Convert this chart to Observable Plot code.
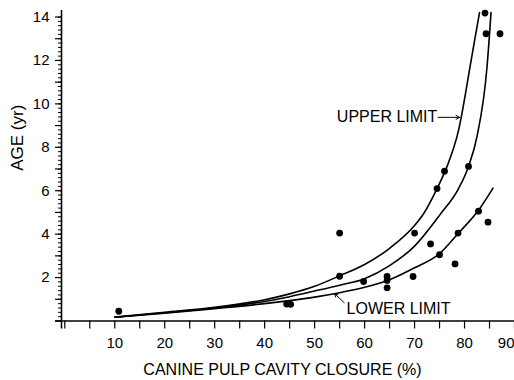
<!DOCTYPE html>
<html>
<head>
<meta charset="utf-8">
<script src="https://cdn.jsdelivr.net/npm/d3@7"></script>
<script src="https://cdn.jsdelivr.net/npm/@observablehq/plot@0.6"></script>
<style>
  html, body { margin: 0; padding: 0; background: #fff; }
</style>
</head>
<body>
<div id="chart"></div>
<script>
// Observed points: closure (%) and age (yr)
const pointX = [10.8, 44.4, 45.2, 55, 55, 59.8, 64.5, 64.5, 64.5, 70, 69.7, 73.2, 75, 74.5, 76, 78.1, 78.7, 80.8, 82.8, 84.7, 84.1, 84.3, 87.1];
const pointY = [0.45, 0.78, 0.77, 4.05, 2.06, 1.82, 2.05, 1.87, 1.53, 4.05, 2.05, 3.55, 3.05, 6.1, 6.9, 2.63, 4.05, 7.12, 5.06, 4.55, 14.18, 13.23, 13.23];

// Upper limit curve
const upperX = [10, 20, 30, 40, 45, 50, 55, 60, 65, 70, 71.8, 74.5, 76.5, 78.8, 81.1, 82, 83];
const upperY = [0.18, 0.40, 0.63, 0.98, 1.25, 1.6, 2.08, 2.6, 3.35, 4.4, 4.94, 6.1, 7.12, 8.78, 11.7, 12.9, 14.2];

// Middle (fitted) curve
const midX = [10, 20, 30, 40, 45, 50, 55, 60, 65, 70, 75.1, 78.8, 80.8, 82.5, 84.5, 85.3];
const midY = [0.17, 0.38, 0.6, 0.9, 1.12, 1.38, 1.65, 1.95, 2.55, 3.45, 4.9, 6.1, 7.12, 8.5, 11.7, 14.2];

// Lower limit curve
const lowerX = [10, 20, 30, 40, 45, 50, 55, 60, 65, 70, 75, 78.8, 82.8, 85.7];
const lowerY = [0.17, 0.36, 0.57, 0.8, 0.94, 1.1, 1.3, 1.55, 1.9, 2.45, 3.1, 4.05, 5.1, 6.12];

// Axis ticks and labels
const xDomain = [-0.66, 90];
const yDomain = [0, 14.3];
const xTicks = d3.range(0, 91, 5);
const xLabels = [10, 20, 30, 40, 50, 60, 70, 80, 90];
const yLabels = [2, 4, 6, 8, 10, 12, 14];
const yInts = d3.range(0, 15, 1);
const yMinor = d3.range(0, 71, 1).map(i => i / 5).filter(v => v <= 14.3);

const xTitle = "CANINE PULP CAVITY CLOSURE (%)";
const yTitle = "AGE (yr)";
const upperText = "UPPER LIMIT";
const lowerText = "LOWER LIMIT";

const points = pointX.map((x, i) => ({x, y: pointY[i]}));
const toRows = (xs, ys) => xs.map((x, i) => ({x, y: ys[i]}));
const upper = toRows(upperX, upperY);
const mid = toRows(midX, midY);
const lower = toRows(lowerX, lowerY);

const font = 15;

const chart = Plot.plot({
  width: 514,
  height: 380,
  marginLeft: 61,
  marginRight: 0,
  marginTop: 10,
  marginBottom: 59.5,
  style: {fontFamily: "Liberation Sans, Arial, sans-serif", color: "#000", background: "#fff"},
  x: {domain: xDomain, axis: null},
  y: {domain: yDomain, axis: null},
  marks: [
    // y ticks
    Plot.ruleY(yMinor, {y: d => d, x1: xDomain[0], x2: xDomain[0], insetLeft: -3, stroke: "#000", strokeWidth: 1}),
    Plot.ruleY(yInts, {y: d => d, x1: xDomain[0], x2: xDomain[0], insetLeft: -6, stroke: "#000", strokeWidth: 1.2}),
    // x ticks
    Plot.ruleX(xTicks, {x: d => d, y1: yDomain[0], y2: yDomain[0], insetBottom: -8, stroke: "#000", strokeWidth: 1.2}),
    // axis lines
    Plot.ruleY([0], {insetLeft: -6, stroke: "#000", strokeWidth: 1.6}),
    Plot.ruleX([xDomain[0]], {insetBottom: -8, stroke: "#000", strokeWidth: 1.6}),
    // tick labels
    Plot.text(yLabels, {y: d => d, frameAnchor: "left", dx: -12, textAnchor: "end", fontSize: font, fill: "#000"}),
    Plot.text(xLabels.slice(0, -1), {x: d => d, frameAnchor: "bottom", dy: 22.5, lineAnchor: "middle", fontSize: font, fill: "#000"}),
    Plot.text(xLabels.slice(-1), {x: d => d, frameAnchor: "bottom", dy: 22.5, lineAnchor: "middle", textAnchor: "end", fontSize: font, fill: "#000"}),
    // titles
    Plot.text([xTitle], {text: d => d, frameAnchor: "bottom", dx: -5.5, dy: 48.5, lineAnchor: "middle", fontSize: 16, fill: "#000"}),
    Plot.text([yTitle], {text: d => d, frameAnchor: "left", rotate: -90, dx: -44, dy: 5, lineAnchor: "middle", fontSize: 17, fill: "#000"}),
    // curves
    Plot.line(upper, {x: "x", y: "y", curve: "monotone-x", stroke: "#000", strokeWidth: 1.6}),
    Plot.line(mid, {x: "x", y: "y", curve: "monotone-x", stroke: "#000", strokeWidth: 1.6}),
    Plot.line(lower, {x: "x", y: "y", curve: "monotone-x", stroke: "#000", strokeWidth: 1.6}),
    // points
    Plot.dot(points, {x: "x", y: "y", r: 3.4, fill: "#000", stroke: "none"}),
    // annotations
    Plot.text([upperText], {text: d => d, x: 64.5, y: 9.38, fontSize: 16, fill: "#000"}),
    Plot.arrow([0], {x1: 74.7, y1: 9.38, x2: 79.0, y2: 9.38, stroke: "#000", strokeWidth: 1, headLength: 6}),
    Plot.text([lowerText], {text: d => d, x: 66.8, y: 0.58, fontSize: 16, fill: "#000"}),
    Plot.arrow([0], {x1: 55.9, y1: 0.85, x2: 54.0, y2: 1.25, stroke: "#000", strokeWidth: 1, headLength: 5})
  ]
});
document.getElementById("chart").appendChild(chart);
</script>
</body>
</html>
